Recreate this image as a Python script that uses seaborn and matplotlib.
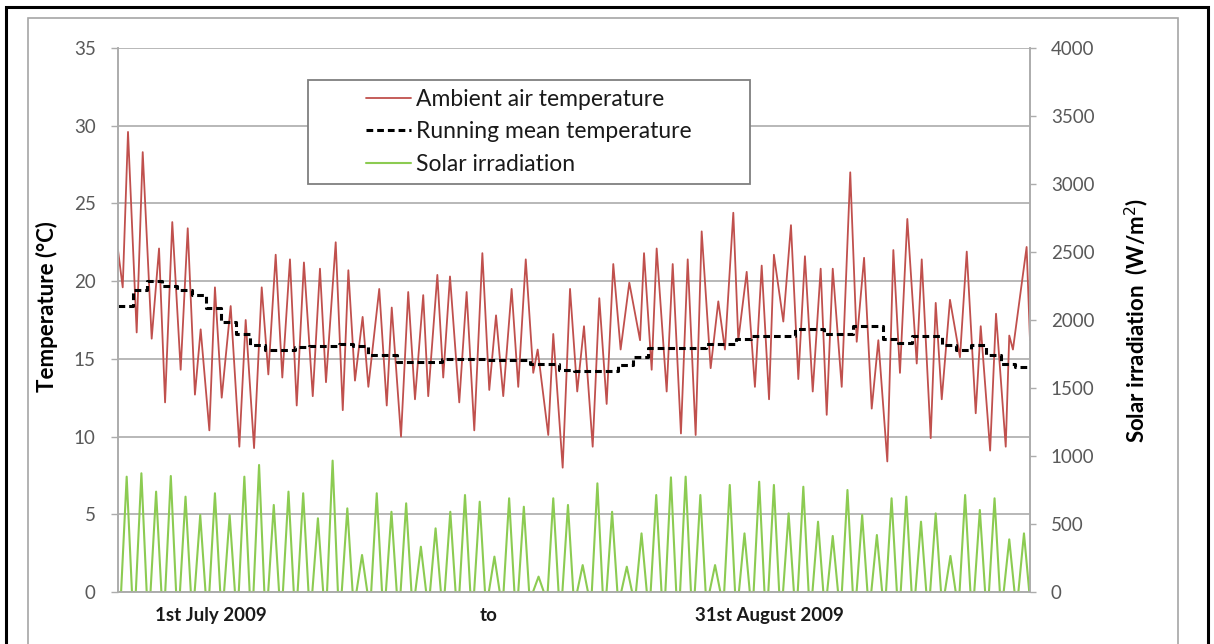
import matplotlib
matplotlib.use("Agg")
import matplotlib.pyplot as plt
import seaborn as sns
import numpy as np
import pandas as pd
from matplotlib.lines import Line2D
from matplotlib.patches import Rectangle

# ---------------- data ----------------
# Ambient air temperature: time in days since 1 July 2009 00:00, value in degC
temp_time = [0.00, 0.32, 0.68, 1.27, 1.68, 2.29, 2.79, 3.20, 3.69, 4.26, 4.74, 5.23,
             5.62, 6.21, 6.59, 7.05, 7.66, 8.25, 8.68, 9.25, 9.77, 10.22, 10.72, 11.17,
             11.69, 12.15, 12.64, 13.24, 13.73, 14.14, 14.80, 15.28, 15.66, 16.11, 16.63,
             17.02, 17.76, 18.27, 18.61, 19.24, 19.73, 20.19, 20.75, 21.09, 21.71, 22.11,
             22.57, 23.20, 23.70, 24.22, 24.77, 25.24, 25.70, 26.19, 26.76, 27.21, 27.72,
             28.23, 28.53, 29.25, 29.59, 30.23, 30.73, 31.22, 31.68, 32.27, 32.72, 33.22,
             33.67, 34.17, 34.76, 35.49, 35.76, 36.28, 36.62, 37.30, 37.71, 38.27, 38.73,
             39.27, 39.68, 40.29, 40.81, 41.26, 41.83, 42.17, 42.74, 43.30, 43.76, 44.26,
             44.59, 45.23, 45.75, 46.25, 46.70, 47.23, 47.77, 48.18, 48.59, 49.20, 49.78,
             50.22, 50.72, 51.24, 51.69, 52.30, 52.71, 53.16, 53.66, 54.30, 54.64, 55.25,
             55.59, 56.00, 56.56, 57.24, 57.70, 58.31, 58.65, 59.29, 59.69, 60.35, 60.59,
             60.84, 61.77, 62.00]
temp_vals = [22.0, 19.6, 29.6, 16.7, 28.3, 16.3, 22.1, 12.2, 23.8, 14.3, 23.4, 12.7,
             16.9, 10.4, 19.6, 12.5, 18.4, 9.35, 17.5, 9.26, 19.6, 14.0, 21.7, 13.8,
             21.4, 12.0, 21.2, 12.6, 20.8, 13.5, 22.5, 11.7, 20.7, 13.6, 17.7,
             13.2, 19.5, 12.0, 18.3, 10.0, 19.3, 12.4, 19.1, 12.6, 20.4, 13.8,
             20.3, 12.2, 19.3, 10.4, 21.8, 13.0, 17.8, 12.6, 19.5, 13.2, 21.4,
             14.1, 15.6, 10.1, 16.6, 8.0, 19.5, 12.9, 17.1, 9.35, 18.9, 12.1,
             21.1, 15.6, 19.9, 16.2, 21.8, 14.3, 22.1, 12.9, 21.1, 10.2, 21.4,
             10.1, 23.2, 14.4, 18.7, 15.6, 24.4, 16.2, 20.6, 13.2, 21.0, 12.4,
             21.7, 17.4, 23.6, 13.7, 21.6, 12.9, 20.8, 11.4, 20.8, 13.2, 27.0,
             16.1, 21.5, 11.8, 16.2, 8.4, 22.0, 14.1, 24.0, 14.7, 21.4, 9.9,
             18.6, 12.4, 18.8, 15.1, 21.9, 11.5, 17.1, 9.1, 17.9, 9.35, 16.5,
             15.6, 22.2, 16.2]

# Running mean temperature, one value per day (degC)
running_mean = [18.4, 19.4, 20.0, 19.7, 19.4, 19.1, 18.25, 17.4, 16.6, 15.9,
                15.6, 15.6, 15.75, 15.8, 15.8, 15.95, 15.8, 15.25, 15.25, 14.8,
                14.8, 14.8, 15.0, 15.0, 15.0, 14.9, 14.9, 14.9, 14.7, 14.7,
                14.3, 14.2, 14.2, 14.2, 14.6, 15.1, 15.7, 15.7, 15.7, 15.7,
                15.96, 15.96, 16.3, 16.5, 16.5, 16.5, 16.9, 16.9, 16.6, 16.6,
                17.1, 17.1, 16.3, 16.0, 16.5, 16.5, 15.9, 15.6, 15.9, 15.25,
                14.7, 14.45]

# Daily peak solar irradiation (W/m2)
solar_peak = [848, 873, 738, 853, 701, 566, 726, 566, 848, 934, 640, 738, 726, 542,
              966, 615, 272, 726, 590, 652, 333, 468, 590, 713, 664, 260, 689, 627,
              113, 689, 640, 198, 799, 590, 186, 431, 713, 843, 848, 713, 198, 787,
              431, 811, 787, 578, 774, 517, 412, 750, 566, 419, 689, 701, 517, 578,
              265, 713, 603, 689, 387, 431]
SUNRISE, NOON, SUNSET = 0.21, 0.59, 0.95   # fraction of day

x_labels = ["1st July 2009", "to", "31st August 2009"]
x_label_pos = [6.3, 25.2, 44.3]

n_days = len(running_mean)

# ---------------- build frames ----------------
df_temp = pd.DataFrame({"t": temp_time, "T": temp_vals})
rm_t = list(range(n_days)) + [n_days]
df_rm = pd.DataFrame({"t": rm_t, "T": running_mean + [running_mean[-1]]})
sol_t, sol_v = [0.0], [0.0]
for d, p in enumerate(solar_peak):
    sol_t += [d + SUNRISE, d + NOON, d + SUNSET]
    sol_v += [0.0, p, 0.0]
sol_t.append(float(n_days)); sol_v.append(0.0)
df_sol = pd.DataFrame({"t": sol_t, "S": sol_v})

# ---------------- style ----------------
sns.set_theme(style="white")
plt.rcParams["font.family"] = ["Lato", "DejaVu Sans"]

RED = "#C0504D"
GREEN = "#8CCB52"
GRID = "#ACACAC"
TICKC = "#595959"

W, H = 1214, 644
fig = plt.figure(figsize=(W / 100, H / 100), dpi=100)
fig.patch.set_facecolor("white")
ax = fig.add_axes([118 / W, 1 - 592 / H, (1030 - 118) / W, (592 - 48) / H])
ax2 = ax.twinx()

# borders around the figure
fig.patches.append(Rectangle((6 / W, -0.05), (1208 - 6) / W, 1.05 - 7 / H,
                             transform=fig.transFigure, fill=False,
                             edgecolor="black", linewidth=2.2, zorder=0))
fig.patches.append(Rectangle((28 / W, -0.05), (1178 - 28) / W, 1.05 - 18 / H,
                             transform=fig.transFigure, fill=False,
                             edgecolor="#A6A6A6", linewidth=1.2, zorder=0))

# ---------------- lines ----------------
sns.lineplot(data=df_temp, x="t", y="T", ax=ax, color=RED, linewidth=1.3,
             sort=False, estimator=None, legend=False)
sns.lineplot(data=df_rm, x="t", y="T", ax=ax, color="black", linewidth=2.2,
             sort=False, estimator=None, legend=False, drawstyle="steps-post",
             linestyle=(0, (2.2, 1.3)))
sns.lineplot(data=df_sol, x="t", y="S", ax=ax2, color=GREEN, linewidth=1.5,
             sort=False, estimator=None, legend=False)

# ---------------- axes ----------------
ax.set_xlim(0, n_days)
ax.set_ylim(0, 35)
ax2.set_ylim(0, 4000)
ax.set_yticks(np.arange(0, 36, 5))
ax2.set_yticks(np.arange(0, 4001, 500))
ax.yaxis.grid(True, color=GRID, linewidth=1.2)
ax.set_axisbelow(True)
ax.set_xticks(x_label_pos)
ax.set_xticklabels(x_labels, fontsize=13.5, fontweight="bold", color="#1a1a1a")
ax.tick_params(axis="x", length=0, pad=11)
ax.tick_params(axis="y", length=5, width=1, color=GRID, labelsize=13.5,
               labelcolor=TICKC, pad=11, left=True)
ax2.tick_params(axis="y", length=4, width=1, color=GRID, labelsize=13.5,
                labelcolor=TICKC, pad=11, right=True)

for a in (ax, ax2):
    for s in a.spines.values():
        s.set_color(GRID)
        s.set_linewidth(1.2)
    a.spines["top"].set_visible(False)

ax.set_xlabel("")
ax.set_ylabel("Temperature (°C)", fontsize=16, fontweight="bold", color="black")
ax.yaxis.set_label_coords(-0.066, 0.525)
ax2.set_ylabel("Solar irradiation  (W/m$^2$)", fontsize=16, fontweight="bold", color="black")
ax2.yaxis.set_label_coords(1.101, 0.5)

# ---------------- legend ----------------
bx0, bx1 = (308 - 118) / 912, (750 - 118) / 912
by0, by1 = (592 - 184) / 544, (592 - 80) / 544
ax2.add_patch(Rectangle((bx0, by0), bx1 - bx0, by1 - by0, transform=ax2.transAxes,
                        facecolor="white", edgecolor="#7F7F7F", linewidth=1.3, zorder=5))
handles = [Line2D([], [], color=RED, linewidth=1.3),
           Line2D([], [], color="black", linewidth=2.2, linestyle=(0, (2.2, 1.3))),
           Line2D([], [], color=GREEN, linewidth=1.5)]
labels = ["Ambient air temperature", "Running mean temperature", "Solar irradiation"]
leg = ax2.legend(handles, labels, loc="center", bbox_to_anchor=((bx0 + bx1) / 2, (by0 + by1) / 2),
                 frameon=False, fontsize=16.5, handlelength=1.95, handletextpad=0.22,
                 labelspacing=0.52, borderpad=0)
leg.set_zorder(6)
for t in leg.get_texts():
    t.set_color("#1a1a1a")

fig.savefig("out.png", dpi=100, facecolor="white")
